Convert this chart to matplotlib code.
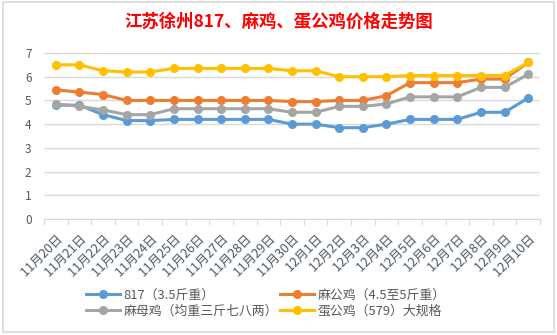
import matplotlib.pyplot as plt
from matplotlib.patches import Rectangle
import matplotlib.patheffects as pe

plt.rcParams['font.family'] = ['Noto Sans CJK SC', 'DejaVu Sans']

# %% data
dates = ['11月20日', '11月21日', '11月22日', '11月23日', '11月24日', '11月25日', '11月26日',
         '11月27日', '11月28日', '11月29日', '11月30日', '12月1日', '12月2日', '12月3日',
         '12月4日', '12月5日', '12月6日', '12月7日', '12月8日', '12月9日', '12月10日']

s817 = [4.8, 4.8, 4.4, 4.15, 4.15, 4.2, 4.2, 4.2, 4.2, 4.2, 4.0,
        4.0, 3.85, 3.85, 4.0, 4.2, 4.2, 4.2, 4.5, 4.5, 5.1]
ma_gong = [5.45, 5.35, 5.25, 5.0, 5.0, 5.0, 5.0, 5.0, 5.0, 5.0, 4.95,
           4.95, 5.0, 5.0, 5.2, 5.75, 5.75, 5.75, 5.9, 5.9, 6.6]
ma_mu = [4.85, 4.75, 4.6, 4.4, 4.4, 4.65, 4.65, 4.65, 4.65, 4.65, 4.5,
         4.5, 4.75, 4.75, 4.85, 5.15, 5.15, 5.15, 5.55, 5.55, 6.1]
dan_gong = [6.5, 6.5, 6.25, 6.2, 6.2, 6.35, 6.35, 6.35, 6.35, 6.35, 6.25,
            6.25, 6.0, 6.0, 6.0, 6.05, 6.05, 6.05, 6.05, 6.05, 6.6]

names = ['817（3.5斤重）', '麻公鸡（4.5至5斤重）', '麻母鸡（均重三斤七八两）', '蛋公鸡（579）大规格']
colors = ['#5B9BD5', '#ED7D31', '#A5A5A5', '#FFC000']

# %% plot
fig = plt.figure(figsize=(5.57, 3.35), dpi=100)
fig.patches.append(Rectangle((3 / 557, 3 / 335), 551 / 557, 330 / 335, transform=fig.transFigure,
                             fill=False, edgecolor='#d9d9d9', linewidth=1.2))

ax = fig.add_axes([44 / 557, 1 - 219 / 335, 496 / 557, 166 / 335])
x = list(range(len(dates)))
lines = []
for ys, name, c in zip([s817, ma_gong, ma_mu, dan_gong], names, colors):
    ln, = ax.plot(x, ys, color=c, linewidth=2.2, marker='o', markersize=5.5, label=name)
    lines.append(ln)

ax.set_xlim(-0.5, len(dates) - 0.5)
ax.set_ylim(0, 7)
ax.set_yticks(range(0, 8))
ax.grid(axis='y', color='#d9d9d9', linewidth=1)
ax.set_axisbelow(True)
for sp in ['top', 'right', 'left']:
    ax.spines[sp].set_visible(False)
ax.spines['bottom'].set_color('#d9d9d9')
ax.tick_params(axis='y', length=0, labelsize=8.5, labelcolor='#595959', pad=9)

ax.set_xticks([i - 0.5 for i in range(len(dates) + 1)], minor=False)
ax.set_xticklabels([])
ax.tick_params(axis='x', which='major', length=4, color='#d9d9d9')
ax.set_xticks(x, minor=True)
ax.set_xticklabels(dates, minor=True, rotation=45, ha='right', va='top',
                   rotation_mode='anchor', fontsize=9, color='#595959')
ax.tick_params(axis='x', which='minor', length=0, pad=10)
for t in ax.get_xticklabels(minor=True):
    t.set_path_effects([pe.withStroke(linewidth=1.5, foreground='#eef4fb')])

fig.text(0.5, 1 - 22 / 335, '江苏徐州817、麻鸡、蛋公鸡价格走势图', ha='center', va='center',
         color='red', fontsize=12.5, fontweight='bold')

# legend filled row by row like the original
order = [0, 2, 1, 3]
fig.legend([lines[i] for i in order], [names[i] for i in order],
           loc='center', bbox_to_anchor=(266 / 557, 1 - 303 / 335), ncol=2, frameon=False,
           fontsize=9.3, handlelength=2.6, columnspacing=0.2, handletextpad=0.3,
           labelspacing=0.2, labelcolor='#595959')

fig.savefig('out.png', dpi=100)
